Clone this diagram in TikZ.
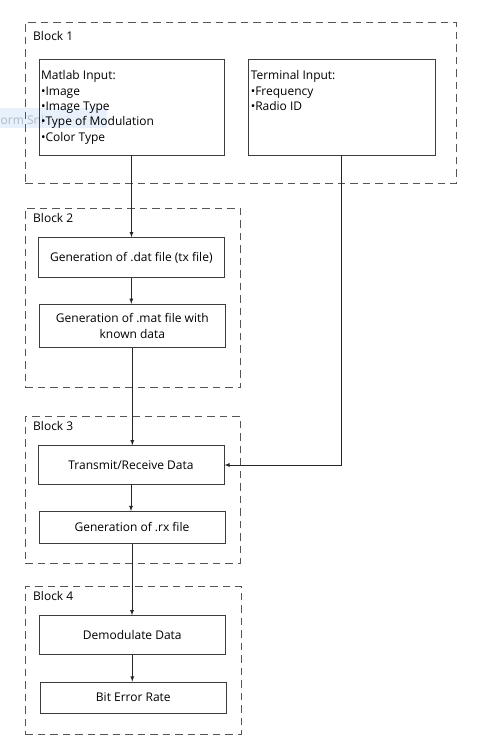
\documentclass[tikz,border=0pt]{standalone}
\usepackage{fontspec}
\setmainfont{Open Sans}
\usetikzlibrary{positioning}
\definecolor{boxgray}{RGB}{60,60,60}
\definecolor{dashgray}{RGB}{85,85,85}
\definecolor{snipblue}{RGB}{231,240,251}
\definecolor{snipgray}{RGB}{175,185,200}
\tikzset{
  blockbox/.style={draw=dashgray, line width=0.9pt, dash pattern=on 7.5pt off 5pt},
  stepbox/.style={draw=boxgray, line width=0.9pt, minimum width=186pt, align=center,
    font=\fontsize{12}{15.4}\selectfont},
  inputbox/.style={stepbox, minimum height=96pt, inner xsep=2pt},
  blocklabel/.style={font=\fontsize{12}{14}\selectfont, inner sep=0pt, anchor=base west},
  flow/.style={-latex, line width=0.8pt, draw=black!85}
}
\begin{document}
\begin{tikzpicture}[x=1pt, y=-1pt]
  \useasboundingbox (0,0) rectangle (488,755);
  % snipping tool leftover
  \fill[snipblue] (0,108) rectangle (107,128);
  \node[anchor=base west, inner sep=0pt, text=snipgray, font=\fontsize{12}{14}\selectfont] (snip) at (0.5,124) {orm Sni};

  % dashed blocks
  \node[blockbox, minimum width=431pt, minimum height=161pt] (B1) at (240.5,102.5) {};
  \node[blockbox, minimum width=215pt, minimum height=179.5pt] (B2) at (132.5,297.75) {};
  \node[blockbox, minimum width=215pt, minimum height=147pt] (B3) at (132.5,489.5) {};
  \node[blockbox, minimum width=216pt, minimum height=148pt] (B4) at (133,660) {};
  \node[blocklabel] (L1) at (33,40) {Block 1};
  \node[blocklabel] (L2) at (33,222.7) {Block 2};
  \node[blocklabel] (L3) at (33,430.5) {Block 3};
  \node[blocklabel] (L4) at (33,600.5) {Block 4};

  % inputs
  \node[inputbox, minimum width=185pt] (matlab) at (131.5,107) {%
    \parbox[t][76pt][t]{181pt}{\raggedright\strut Matlab Input:\\•Image\\•Image Type\\•Type of Modulation\\•Color Type}};
  \node[inputbox, minimum width=186.5pt, inner xsep=2.25pt] (term) at (341.75,107) {%
    \parbox[t][76pt][t]{182pt}{\raggedright\strut Terminal Input:\\•Frequency\\•Radio ID}};

  % steps
  \node[stepbox, minimum height=39.5pt] (dat) at (131.3,257.5) {Generation of .dat file (tx file)};
  \node[stepbox, minimum height=43pt] (mat) at (132.3,325.8) {Generation of .mat file with\\known data};
  \node[stepbox, minimum height=38.5pt] (trans) at (131,465) {Transmit/Receive Data};
  \node[stepbox, minimum height=31.5pt] (rx) at (132,527.3) {Generation of .rx file};
  \node[stepbox, minimum height=38.5pt] (demod) at (132.3,635) {Demodulate Data};
  \node[stepbox, minimum height=31pt] (ber) at (133.3,697.5) {Bit Error Rate};

  \draw[flow] (matlab.south) -- (matlab.south |- dat.north);
  \draw[flow] (dat.south) -- (dat.south |- mat.north);
  \draw[flow] (mat.south) -- (mat.south |- trans.north);
  \draw[flow] (trans.south) -- (trans.south |- rx.north);
  \draw[flow] (rx.south) -- (rx.south |- demod.north);
  \draw[flow] (demod.south) -- (demod.south |- ber.north);
  \draw[flow] (term.south) |- (trans.east);
\end{tikzpicture}
\end{document}
